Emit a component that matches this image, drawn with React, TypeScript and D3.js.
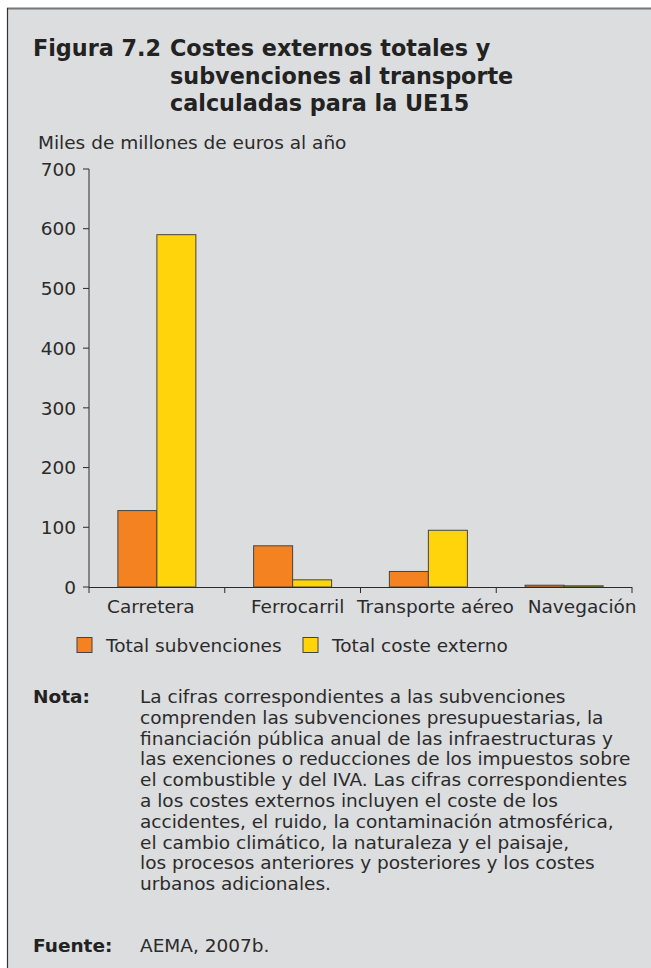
import { scaleBand, scaleLinear } from "d3";

const categories = ["Carretera", "Ferrocarril", "Transporte aéreo", "Navegación"];
const subvenciones = [128, 69, 26, 3];
const costeExterno = [590, 12, 95, 2];
const yTicks = [0, 100, 200, 300, 400, 500, 600, 700];
const seriesLabels = ["Total subvenciones", "Total coste externo"];
const seriesColors = ["#f58220", "#ffd40a"];

const titleLines = [
  "Costes externos totales y",
  "subvenciones al transporte",
  "calculadas para la UE15",
];
const notaLines = [
  "La cifras correspondientes a las subvenciones",
  "comprenden las subvenciones presupuestarias, la",
  "financiación pública anual de las infraestructuras y",
  "las exenciones o reducciones de los impuestos sobre",
  "el combustible y del IVA. Las cifras correspondientes",
  "a los costes externos incluyen el coste de los",
  "accidentes, el ruido, la contaminación atmosférica,",
  "el cambio climático, la naturaleza y el paisaje,",
  "los procesos anteriores y posteriores y los costes",
  "urbanos adicionales.",
];

const W = 651;
const H = 968;
const font = "'DejaVu Sans', Verdana, sans-serif";
const ink = "#2b2b2b";
const fs = 18.5;
// las etiquetas del eje x no quedan centradas del todo en el original
const labelShift = [-6, 5, 7, 18];

export default function App() {
  const x = scaleBand<string>().domain(categories).range([89, 632]);
  const y = scaleLinear().domain([0, 700]).range([587, 169]);
  const barW = 39;
  const series = [subvenciones, costeExterno];

  return (
    <svg
      width={W}
      height={H}
      style={{ position: "absolute", left: 0, top: 0 }}
      fontFamily={font}
    >
      <rect x={0} y={0} width={W} height={H} fill="#fff" />
      <rect x={7} y={8} width={W - 7} height={H - 8} fill="#dcdddf" />
      <line x1={7} x2={W} y1={8.5} y2={8.5} stroke="#777" strokeWidth={2} />
      <line x1={7.5} x2={7.5} y1={8} y2={H} stroke="#333" strokeWidth={1.2} />

      {/* titulo */}
      <g fontWeight="bold" fontSize={22.3} fill="#222">
        <text x={33} y={56}>Figura 7.2</text>
        {titleLines.map((t, i) => (
          <text key={i} x={170} y={56 + i * 27.5}>
            {t}
          </text>
        ))}
      </g>

      <text x={38} y={149} fontSize={fs} fill={ink}>
        Miles de millones de euros al año
      </text>

      {/* eje y */}
      <line x1={89} x2={89} y1={169} y2={587} stroke={ink} />
      {yTicks.map((t) => (
        <g key={t} transform={`translate(0,${y(t)})`}>
          <line x1={83} x2={89} stroke={ink} />
          <text x={76} dy="0.36em" textAnchor="end" fontSize={fs} fill={ink}>
            {t}
          </text>
        </g>
      ))}

      {/* barras */}
      {categories.map((c, ci) =>
        series.map((s, si) => {
          const cx = x(c)! + x.bandwidth() / 2;
          const bx = cx - barW + si * barW;
          return (
            <rect
              key={`${ci}-${si}`}
              x={bx}
              y={y(s[ci])}
              width={barW}
              height={y(0) - y(s[ci])}
              fill={seriesColors[si]}
              stroke="#444"
              strokeWidth={1}
            />
          );
        }),
      )}

      {/* eje x */}
      <line x1={89} x2={632} y1={587.5} y2={587.5} stroke={ink} />
      {[...categories.map((c) => x(c)!), 632].map((v, i) => (
        <line key={i} x1={v} x2={v} y1={587} y2={593} stroke={ink} />
      ))}
      <clipPath id="xclip">
        <rect x={0} y={590} width={636} height={40} />
      </clipPath>
      <g clipPath="url(#xclip)">
        {categories.map((c, i) => (
          <text
            key={c}
            x={x(c)! + x.bandwidth() / 2 + labelShift[i]}
            y={613}
            textAnchor="middle"
            fontSize={fs}
            fill={ink}
          >
            {c}
          </text>
        ))}
      </g>

      {/* leyenda */}
      {seriesLabels.map((l, i) => {
        const lx = [77, 303][i];
        return (
          <g key={l}>
            <rect
              x={lx}
              y={637.5}
              width={15}
              height={15}
              fill={seriesColors[i]}
              stroke="#444"
            />
            <text x={lx + 29} y={652} fontSize={fs} fill={ink}>
              {l}
            </text>
          </g>
        );
      })}

      {/* nota */}
      <text x={33} y={703} fontSize={fs} fontWeight="bold" fill="#222">
        Nota:
      </text>
      {notaLines.map((t, i) => (
        <text key={i} x={140} y={703 + i * 20.8} fontSize={fs} fill={ink}>
          {t}
        </text>
      ))}
      <text x={33} y={952} fontSize={fs} fontWeight="bold" fill="#222">
        Fuente:
      </text>
      <text x={140} y={952} fontSize={fs} fill={ink}>
        AEMA, 2007b.
      </text>
    </svg>
  );
}
